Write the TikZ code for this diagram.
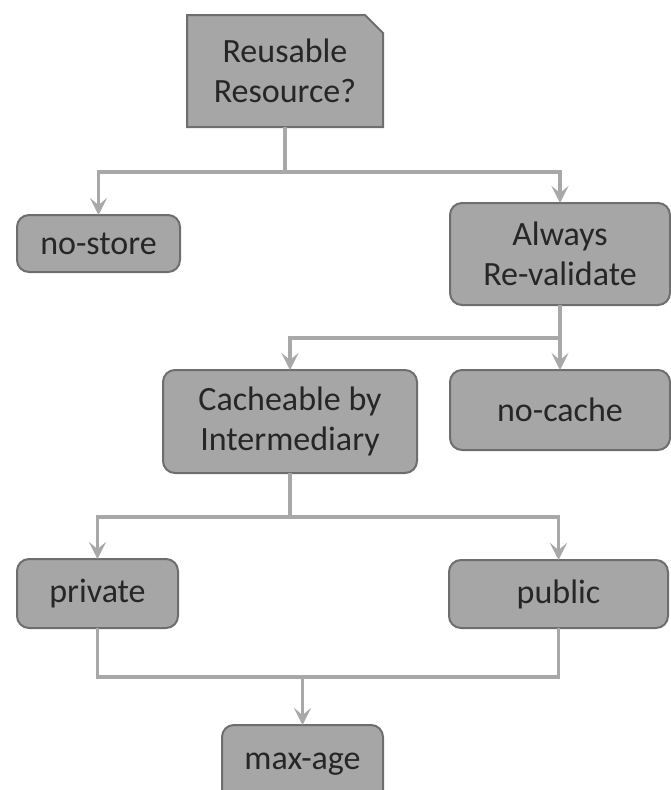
\documentclass[tikz,border=0pt]{standalone}
\usepackage{fontspec}
\setmainfont{Carlito}
\usetikzlibrary{arrows.meta,backgrounds}
\definecolor{boxfill}{HTML}{A6A6A6}
\definecolor{boxedge}{HTML}{6E6E6E}
\definecolor{linkgray}{HTML}{A8A8A8}
\definecolor{textgray}{HTML}{262626}
\tikzset{
  box/.style={draw=boxedge,line width=2pt,fill=boxfill,rounded corners=12pt,
    align=center,text=textgray,outer sep=0pt,inner sep=2pt,
    font=\fontsize{34}{40}\selectfont},
  link/.style={draw=linkgray,line width=3.5pt},
  tip/.style={-{Stealth[length=17pt,width=17pt,inset=7pt]}}
}
\begin{document}
\begin{tikzpicture}[x=1pt,y=-1pt]
	\useasboundingbox (0,0) rectangle (670,790);
	\node[box,draw=none,fill=none,rounded corners=0pt,minimum width=196,minimum height=112] (reuse) at (285,71) {Reusable\\Resource?};
	\begin{scope}[on background layer]
		\draw[draw=boxedge,line width=2pt,fill=boxfill] (reuse.north west) -- ([xshift=-18pt]reuse.north east)
		-- ([yshift=-18pt]reuse.north east) -- (reuse.south east) -- (reuse.south west) -- cycle;
	\end{scope}
	\foreach \n/\x/\y/\w/\h/\t in {nostore/98.5/243.5/163/57/{no-store},
		always/560/254/220/102/{Always\\Re-validate},
		nocache/560/410/220/80/{no-cache},
		cache/290/421.5/254/103/{Cacheable by\\Intermediary},
		private/97.5/593.5/161/69/{private},
		public/558.5/594/219/68/{public},
		maxage/302.5/764/161/78/{max-age}}
	\node[box,minimum width=\w,minimum height=\h] (\n) at (\x,\y) {\t};
	\path (285,172) coordinate (j1) (560,338) coordinate (j2) (290,517) coordinate (j3)
	(maxage.north |- 0,677) coordinate (j4);
	\draw[link] (reuse.south) -- (j1);
	\draw[link,tip] (j1) -| (nostore);
	\draw[link,tip] (j1) -| (always);
	\draw[link,tip] (always.south) -- (nocache.north);
	\draw[link,tip] (j2) -| (cache);
	\draw[link] (cache.south) -- (j3);
	\draw[link,tip] (j3) -| (private);
	\draw[link,tip] (j3) -| (public);
	\draw[link] (private.south) |- (j4) -| (public.south);
	\draw[link,tip] (j4) -- (maxage.north);
\end{tikzpicture}
\end{document}
